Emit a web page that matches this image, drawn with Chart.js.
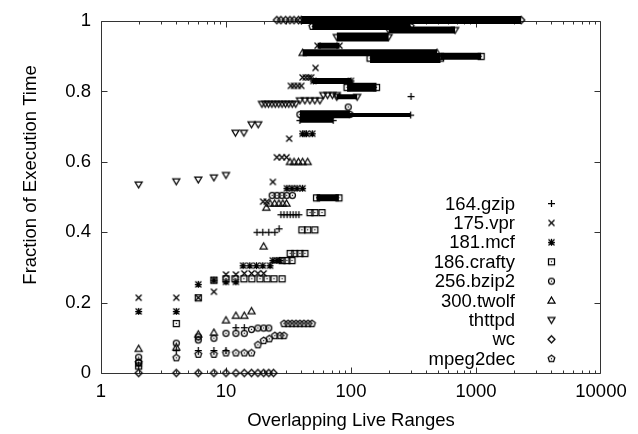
<!DOCTYPE html>
<html>
<head>
<meta charset="utf-8">
<script src="https://cdn.jsdelivr.net/npm/chart.js@4.4.0/dist/chart.umd.min.js"></script>
<style>
  html, body { margin: 0; padding: 0; background: #fff; }
</style>
</head>
<body>
<canvas id="chart" width="638" height="434"></canvas>
<script>
// ---- data ----
const seriesNames = ["164.gzip", "175.vpr", "181.mcf", "186.crafty", "256.bzip2", "300.twolf", "thttpd", "wc", "mpeg2dec"];
const xTicks = [1, 10, 100, 1000, 10000];
const yTicks = [0, 0.2, 0.4, 0.6, 0.8, 1];

const gzipX = [2, 4, 6, 8, 10, 12, 14, 17.7, 19.7, 22, 24.6, 26.6, 27.5, 29.1, 30.8, 32.6, 34.4, 36.3, 38.3, 302];
const gzipY = [0.02, 0.064, 0.064, 0.064, 0.064, 0.129, 0.129, 0.4, 0.4, 0.4, 0.4, 0.41, 0.45, 0.45, 0.45, 0.45, 0.45, 0.45, 0.45, 0.786];

const vprX = [2, 4, 6, 8, 10, 12, 14, 16, 18, 20, 19.8, 21.2, 23.7, 25.5, 28, 30.5, 32, 33, 35, 37.5, 40, 41, 43.5, 46, 48, 52];
const vprY = [0.214, 0.214, 0.214, 0.231, 0.28, 0.28, 0.283, 0.283, 0.283, 0.283, 0.487, 0.487, 0.543, 0.613, 0.613, 0.613, 0.666, 0.816, 0.816, 0.816, 0.816, 0.84, 0.84, 0.84, 0.84, 0.867];

const mcfX = [2, 4, 6, 8, 10, 12, 13.7, 15.5, 17.5, 19.7, 22.5, 23.7, 25.5, 27, 30.7, 33.7, 37, 41, 41, 44, 49];
const mcfY = [0.175, 0.175, 0.252, 0.264, 0.259, 0.259, 0.305, 0.305, 0.305, 0.305, 0.305, 0.32, 0.32, 0.32, 0.525, 0.525, 0.525, 0.525, 0.68, 0.68, 0.68];

const craftyX = [2, 4, 6, 8, 10, 11.8, 13.9, 16.1, 18.7, 21.3, 24.2, 28.1, 28.1, 30.7, 33.7, 32.6, 35.5, 39, 42.8, 40.5, 45, 51.4, 47, 51.4, 58.6];
const craftyY = [0.02, 0.141, 0.214, 0.264, 0.268, 0.268, 0.268, 0.268, 0.268, 0.268, 0.268, 0.268, 0.32, 0.32, 0.32, 0.34, 0.34, 0.34, 0.34, 0.407, 0.407, 0.407, 0.456, 0.456, 0.456];

const bzipX = [2, 2, 4, 6, 6, 8, 10, 12, 14, 16, 18, 20, 22, 23.4, 25.6, 28, 30.6, 34, 95];
const bzipY = [0.045, 0.031, 0.085, 0.103, 0.094, 0.099, 0.113, 0.113, 0.113, 0.124, 0.128, 0.128, 0.128, 0.505, 0.505, 0.505, 0.505, 0.505, 0.756];

const twolfX = [2, 4, 6, 8, 10, 12, 14, 16, 20, 21, 22.5, 24.5, 26.5, 28.5, 30.5, 32.5, 35, 38, 41, 45];
const twolfY = [0.069, 0.073, 0.11, 0.115, 0.15, 0.163, 0.163, 0.176, 0.36, 0.47, 0.482, 0.482, 0.482, 0.482, 0.482, 0.6, 0.6, 0.6, 0.6, 0.6];

const thttpdX = [2, 4, 6, 8, 10, 11.9, 13.9, 16, 18.1, 19.4, 20.6, 21.9, 23.3, 24.8, 26.4, 28.1, 29.9, 31.8, 33.9, 36.1, 39, 42.8, 46.9, 51.4, 56.4, 60, 65, 71, 77];
const thttpdY = [0.536, 0.545, 0.55, 0.556, 0.563, 0.683, 0.683, 0.707, 0.707, 0.765, 0.765, 0.765, 0.765, 0.765, 0.765, 0.765, 0.765, 0.765, 0.765, 0.765, 0.775, 0.775, 0.775, 0.775, 0.775, 0.79, 0.79, 0.79, 0.79];

const wcX = [2, 4, 6, 8, 10, 12, 14, 16, 18, 20, 22, 24, 25.5, 27.5, 30, 32.5, 35, 38];
const wcY = [0, 0, 0, 0, 0, 0, 0, 0, 0, 0, 0, 0, 1.003, 1.003, 1.003, 1.003, 1.003, 1.003];

const mpegX = [2, 4, 6, 8, 10, 12, 14, 16, 18, 20, 22.2, 24.6, 27, 29.1, 29.1, 31.4, 33.7, 36.3, 39, 42, 45.3, 48.7];
const mpegY = [0.03, 0.043, 0.053, 0.053, 0.057, 0.057, 0.057, 0.057, 0.08, 0.092, 0.097, 0.106, 0.106, 0.106, 0.14, 0.14, 0.14, 0.14, 0.14, 0.14, 0.14, 0.14];

// runs where hundreds of markers overlap into a solid bar: [from x, to x, y]
const gzipRuns = [[39, 72, 0.718], [72, 300, 0.733]];
const vprRuns = [[54, 81, 0.93]];
const mcfRuns = [[50, 100, 0.83]];
const craftyRuns = [[53, 80, 0.498], [93, 160, 0.812], [142, 520, 0.895], [520, 1100, 0.9]];
const bzipRuns = [[39, 98, 0.735]];
const twolfRuns = [[41, 488, 0.91]];
const thttpdRuns = [[77, 112, 0.785], [77, 200, 0.955], [200, 680, 0.975]];
const wcRuns = [[40, 2300, 1.003]];
const mpegRuns = [[49, 300, 0.985]];

// ---- styling ----
const runThick = {
  gzip: [5, 4], vpr: [6], mcf: [6], crafty: [7, 9, 10, 7], bzip: [8],
  twolf: [7], thttpd: [5, 9, 7], wc: [8], mpeg: [7]
};
const FONT = "Liberation Sans, Arial, Helvetica, sans-serif";
const FS = 18.5;

function marker(draw) {
  const c = document.createElement("canvas");
  c.width = 11;
  c.height = 11;
  const g = c.getContext("2d");
  g.strokeStyle = "#000";
  g.fillStyle = "#000";
  g.lineWidth = 1.25;
  g.translate(5.5, 5.5);
  g.beginPath();
  draw(g);
  g.stroke();
  return c;
}
const dot = (g) => g.fillRect(-0.6, -0.6, 1.2, 1.2);
const polygon = (g, n, r, start) => {
  for (let k = 0; k < n; k++) {
    const a = start + (k * 2 * Math.PI) / n;
    const px = Math.cos(a) * r, py = Math.sin(a) * r;
    k ? g.lineTo(px, py) : g.moveTo(px, py);
  }
  g.closePath();
};

const markers = [
  marker((g) => { g.moveTo(-3.5, 0); g.lineTo(3.5, 0); g.moveTo(0, -3.5); g.lineTo(0, 3.5); }),
  marker((g) => { g.moveTo(-3, -3); g.lineTo(3, 3); g.moveTo(-3, 3); g.lineTo(3, -3); }),
  marker((g) => { g.moveTo(-3.5, 0); g.lineTo(3.5, 0); g.moveTo(0, -3.5); g.lineTo(0, 3.5);
                  g.moveTo(-3, -3); g.lineTo(3, 3); g.moveTo(-3, 3); g.lineTo(3, -3); }),
  marker((g) => { g.rect(-3, -3, 6, 6); dot(g); }),
  marker((g) => { g.arc(0, 0, 3, 0, 2 * Math.PI); dot(g); }),
  marker((g) => { g.moveTo(0, -3.5); g.lineTo(3.5, 2.5); g.lineTo(-3.5, 2.5); g.closePath(); }),
  marker((g) => { g.moveTo(0, 3.5); g.lineTo(3.5, -2.5); g.lineTo(-3.5, -2.5); g.closePath(); }),
  marker((g) => { g.moveTo(0, -3.5); g.lineTo(3.5, 0); g.lineTo(0, 3.5); g.lineTo(-3.5, 0); g.closePath(); }),
  marker((g) => { polygon(g, 5, 3.5, -Math.PI / 2); dot(g); })
];

const pts = (xs, ys) => xs.map((x, i) => ({ x, y: ys[i] }));

const series = [
  [gzipX, gzipY, gzipRuns, runThick.gzip],
  [vprX, vprY, vprRuns, runThick.vpr],
  [mcfX, mcfY, mcfRuns, runThick.mcf],
  [craftyX, craftyY, craftyRuns, runThick.crafty],
  [bzipX, bzipY, bzipRuns, runThick.bzip],
  [twolfX, twolfY, twolfRuns, runThick.twolf],
  [thttpdX, thttpdY, thttpdRuns, runThick.thttpd],
  [wcX, wcY, wcRuns, runThick.wc],
  [mpegX, mpegY, mpegRuns, runThick.mpeg]
];

const datasets = [];
series.forEach(([xs, ys, runs, thick], i) => {
  datasets.push({
    label: seriesNames[i],
    data: pts(xs, ys),
    pointStyle: markers[i],
    pointRadius: 4,
    showLine: false,
    clip: false
  });
  runs.forEach((r, j) => {
    datasets.push({
      label: "",
      data: [{ x: r[0], y: r[2] }, { x: r[1], y: r[2] }],
      showLine: true,
      borderColor: "#000",
      borderWidth: thick[j],
      borderCapStyle: "butt",
      pointStyle: markers[i],
      pointRadius: 4,
      clip: false
    });
  });
});

// ---- gnuplot-style frame with inward ticks, y title and key ----
const frame = {
  id: "frame",
  beforeDatasetsDraw(chart) {
    const { ctx, chartArea: a, scales } = chart;
    const L = Math.floor(a.left) + 0.5, R = Math.floor(a.right) - 0.5;
    const T = Math.floor(a.top) + 0.5, B = Math.floor(a.bottom) + 0.5;
    ctx.save();
    ctx.strokeStyle = "#333";
    ctx.lineWidth = 1;
    ctx.beginPath();
    ctx.rect(L, T, R - L, B - T);
    for (let d = 1; d < 10000; d *= 10) {
      for (let k = 1; k < 10; k++) {
        const v = d * k;
        const len = k === 1 ? 6 : 3;
        const px = Math.round(scales.x.getPixelForValue(v)) + 0.5;
        ctx.moveTo(px, B); ctx.lineTo(px, B - len);
        ctx.moveTo(px, T); ctx.lineTo(px, T + len);
      }
    }
    yTicks.forEach((v) => {
      const py = Math.round(scales.y.getPixelForValue(v)) + 0.5;
      ctx.moveTo(L, py); ctx.lineTo(L + 6, py);
      ctx.moveTo(R, py); ctx.lineTo(R - 6, py);
    });
    ctx.stroke();

    ctx.font = FS + "px " + FONT;
    ctx.fillStyle = "#000";
    ctx.textAlign = "center";
    ctx.textBaseline = "middle";
    ctx.translate(31, 175);
    ctx.rotate(-Math.PI / 2);
    ctx.fillText("Fraction of Execution Time", 0, 0);
    ctx.restore();
  },
  afterDraw(chart) {
    const { ctx } = chart;
    ctx.save();
    ctx.font = FS + "px " + FONT;
    ctx.fillStyle = "#000";
    ctx.textAlign = "right";
    ctx.textBaseline = "middle";
    seriesNames.forEach((name, i) => {
      const y = 203.5 + i * 19.4;
      ctx.fillText(name, 515, y + 1);
      Chart.helpers.drawPoint(ctx, { pointStyle: markers[i], radius: 4, rotation: 0, borderWidth: 1 }, 551.5, y);
    });
    ctx.restore();
  }
};

new Chart(document.getElementById("chart"), {
  type: "scatter",
  data: { datasets },
  options: {
    responsive: false,
    animation: false,
    events: [],
    layout: { padding: { top: 14, right: 37, left: 0, bottom: 0 } },
    plugins: { legend: { display: false }, tooltip: { enabled: false } },
    elements: { point: { borderColor: "#000", backgroundColor: "#000" }, line: { tension: 0 } },
    scales: {
      x: {
        type: "logarithmic",
        min: 1,
        max: 10000,
        grid: { display: false, drawTicks: false },
        border: { display: false },
        afterBuildTicks: (s) => { s.ticks = xTicks.map((v) => ({ value: v })); },
        afterFit: (s) => { s.height = 61; },
        ticks: {
          autoSkip: false,
          maxRotation: 0,
          padding: 8,
          color: "#000",
          font: { family: FONT, size: FS },
          callback: (v) => String(v)
        },
        title: {
          display: true,
          text: "Overlapping Live Ranges",
          color: "#000",
          font: { family: FONT, size: FS },
          padding: { top: 0, bottom: 2 }
        }
      },
      y: {
        min: 0,
        max: 1,
        grid: { display: false, drawTicks: false },
        border: { display: false },
        afterBuildTicks: (s) => { s.ticks = yTicks.map((v) => ({ value: v })); },
        afterFit: (s) => { s.width = 101; },
        ticks: {
          padding: 10,
          color: "#000",
          font: { family: FONT, size: FS },
          callback: (v) => String(v)
        }
      }
    }
  },
  plugins: [frame]
});
</script>
</body>
</html>
